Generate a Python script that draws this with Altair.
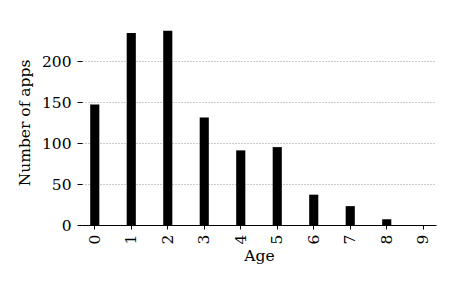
import altair as alt
import pandas as pd

ages = [0, 1, 2, 3, 4, 5, 6, 7, 8, 9]
counts = [147, 234, 237, 131, 91, 95, 37, 23, 7, 0]

df = pd.DataFrame({"Age": ages, "Count": counts})

FONT = "DejaVu Serif"
FS = 15.5

chart = alt.Chart(df).mark_bar(color="black").encode(
    x=alt.X("Age:O", title="Age",
            scale=alt.Scale(paddingInner=0.75, paddingOuter=0.225),
            axis=alt.Axis(labelAngle=270, labelFont=FONT, labelFontSize=FS,
                          titleFont=FONT, titleFontSize=FS, titleFontWeight="normal",
                          labelColor="black", titleColor="black",
                          domainColor="black", tickColor="black", tickSize=4,
                          labelBaseline="middle", labelAlign="right", labelPadding=5,
                          titlePadding=5)),
    y=alt.Y("Count:Q", title="Number of apps",
            scale=alt.Scale(domain=[0, 250], nice=False),
            axis=alt.Axis(values=[0, 50, 100, 150, 200], labelFont=FONT, labelFontSize=FS,
                          titleFont=FONT, titleFontSize=FS, titleFontWeight="normal",
                          labelColor="black", titleColor="black",
                          domain=False, tickColor="black", tickSize=5,
                          labelPadding=6,
                          grid=True, gridDash=[1, 2], gridColor="#999999",
                          gridWidth=1, titlePadding=9)),
).properties(
    width=354, height=205,
    autosize=alt.AutoSizeParams(type="none"),
    padding={"left": 74, "top": 12, "right": 12, "bottom": 53},
).configure_view(stroke=None)

chart.save("out.html", embed_options={"renderer": "svg", "actions": False})
